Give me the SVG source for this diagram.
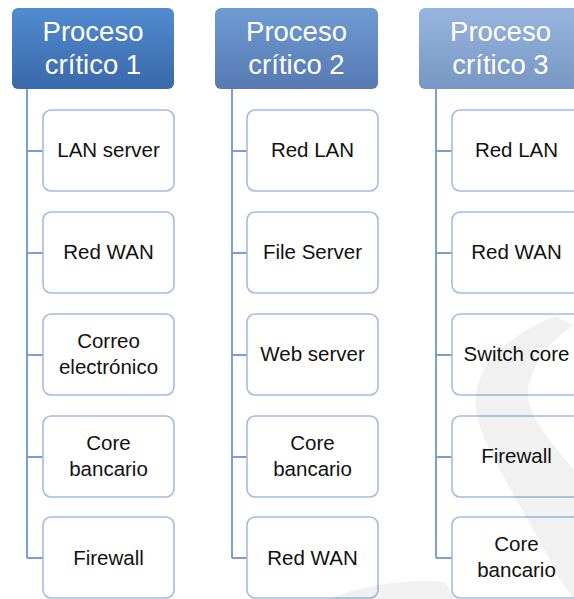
<svg xmlns="http://www.w3.org/2000/svg" width="574" height="599" viewBox="0 0 574 599">
<defs>
<linearGradient id="g1" x1="0" y1="0" x2="0" y2="1"><stop offset="0" stop-color="#528bcf"/><stop offset="1" stop-color="#3a68ab"/></linearGradient>
<linearGradient id="g2" x1="0" y1="0" x2="0" y2="1"><stop offset="0" stop-color="#6f9bd3"/><stop offset="1" stop-color="#5779b2"/></linearGradient>
<linearGradient id="g3" x1="0" y1="0" x2="0" y2="1"><stop offset="0" stop-color="#97b5de"/><stop offset="1" stop-color="#7796c3"/></linearGradient>
<style>
.hdr-t{font-family:"Liberation Sans",Arial,sans-serif;font-size:27.5px;fill:#fff;text-anchor:middle}
.box{fill:#fff;stroke:#a2bce2;stroke-width:1.6}
.bt{font-family:"Liberation Sans",Arial,sans-serif;font-size:20.5px;fill:#111;text-anchor:middle}
.con{fill:none;stroke:#7c9fd2;stroke-width:2}
</style>
</defs>
<rect width="574" height="599" fill="#fff"/>

<g id="connectors">
<path class="con" d="M27 89V558M27 151H43M27 253H43M27 355H43M27 457H43M27 558H43"/>
<path class="con" d="M232 89V558M232 151H247M232 253H247M232 355H247M232 457H247M232 558H247"/>
<path class="con" d="M436 89V558M436 151H452M436 253H452M436 355H452M436 457H452M436 558H452"/>
</g>

<g id="h1"><rect x="12" y="8" width="162" height="81" rx="6" fill="url(#g1)"/><text class="hdr-t" x="93" y="41">Proceso</text><text class="hdr-t" x="93" y="74">crítico 1</text></g>
<g id="h2"><rect x="215" y="8" width="163" height="81" rx="6" fill="url(#g2)"/><text class="hdr-t" x="296.5" y="41">Proceso</text><text class="hdr-t" x="296.5" y="74">crítico 2</text></g>
<g id="h3"><rect x="419" y="8" width="163" height="81" rx="6" fill="url(#g3)"/><text class="hdr-t" x="500.5" y="41">Proceso</text><text class="hdr-t" x="500.5" y="74">crítico 3</text></g>

<g id="c1n1"><rect class="box" x="43" y="110" width="131" height="81" rx="8"/><text class="bt" x="108.5" y="157">LAN server</text></g>
<g id="c1n2"><rect class="box" x="43" y="212" width="131" height="81" rx="8"/><text class="bt" x="108.5" y="259">Red WAN</text></g>
<g id="c1n3"><rect class="box" x="43" y="314" width="131" height="81" rx="8"/><text class="bt" x="108.5" y="348">Correo</text><text class="bt" x="108.5" y="374">electrónico</text></g>
<g id="c1n4"><rect class="box" x="43" y="416" width="131" height="81" rx="8"/><text class="bt" x="108.5" y="450">Core</text><text class="bt" x="108.5" y="476">bancario</text></g>
<g id="c1n5"><rect class="box" x="43" y="517" width="131" height="81" rx="8"/><text class="bt" x="108.5" y="565">Firewall</text></g>

<g id="c2n1"><rect class="box" x="247" y="110" width="131" height="81" rx="8"/><text class="bt" x="312.5" y="157">Red LAN</text></g>
<g id="c2n2"><rect class="box" x="247" y="212" width="131" height="81" rx="8"/><text class="bt" x="312.5" y="259">File Server</text></g>
<g id="c2n3"><rect class="box" x="247" y="314" width="131" height="81" rx="8"/><text class="bt" x="312.5" y="361">Web server</text></g>
<g id="c2n4"><rect class="box" x="247" y="416" width="131" height="81" rx="8"/><text class="bt" x="312.5" y="450">Core</text><text class="bt" x="312.5" y="476">bancario</text></g>
<g id="c2n5"><rect class="box" x="247" y="517" width="131" height="81" rx="8"/><text class="bt" x="312.5" y="565">Red WAN</text></g>

<g id="c3n1"><rect class="box" x="452" y="110" width="131" height="81" rx="8"/><text class="bt" x="516.5" y="157">Red LAN</text></g>
<g id="c3n2"><rect class="box" x="452" y="212" width="131" height="81" rx="8"/><text class="bt" x="516.5" y="259">Red WAN</text></g>
<g id="c3n3"><rect class="box" x="452" y="314" width="131" height="81" rx="8"/><text class="bt" x="516.5" y="361">Switch core</text></g>
<g id="c3n4"><rect class="box" x="452" y="416" width="131" height="81" rx="8"/><text class="bt" x="516.5" y="463">Firewall</text></g>
<g id="c3n5"><rect class="box" x="452" y="517" width="131" height="81" rx="8"/><text class="bt" x="516.5" y="551">Core</text><text class="bt" x="516.5" y="577">bancario</text></g>

<g id="watermark" fill="#000" fill-opacity="0.055">
<path d="M555 316 C520 330 470 360 476 410 C482 450 520 500 560 580 L574 599 L574 470 C550 440 520 410 530 380 C540 350 560 335 574 325 Z"/>
<path d="M330 599 C360 585 410 578 445 582 L455 599 Z"/>
</g>
</svg>
